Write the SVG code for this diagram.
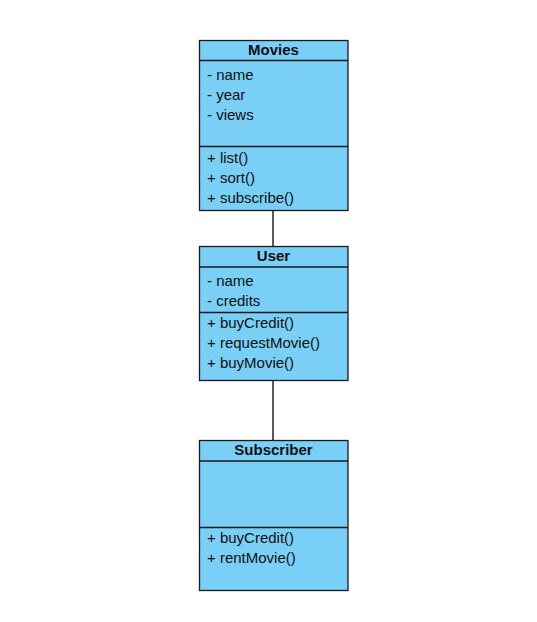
<svg xmlns="http://www.w3.org/2000/svg" width="537" height="622" viewBox="0 0 537 622">
<style>
.box{fill:#79CFF5;stroke:#1a1a1a;stroke-width:1.3}
.div{stroke:#1a1a1a;stroke-width:1.3;fill:none}
.t{font-family:"Liberation Sans",Arial,sans-serif;font-size:15px;fill:#111}
.h{font-family:"Liberation Sans",Arial,sans-serif;font-size:15px;font-weight:bold;fill:#111;text-anchor:middle}
.c{stroke:#000;stroke-width:1.3;fill:none}
</style>
<rect width="537" height="622" fill="#fff"/>
<g id="connectors">
<line class="c" x1="273" y1="210.5" x2="273" y2="246"/>
<line class="c" x1="273" y1="380.5" x2="273" y2="440"/>
</g>
<g id="movies">
<rect class="box" x="199.5" y="40.5" width="148.5" height="170"/>
<line class="div" x1="199.5" y1="60.5" x2="348" y2="60.5"/>
<line class="div" x1="199.5" y1="146.5" x2="348" y2="146.5"/>
<text class="h" x="273.5" y="55">Movies</text>
<text class="t" x="207" y="80">- name</text>
<text class="t" x="207" y="100">- year</text>
<text class="t" x="207" y="120">- views</text>
<text class="t" x="207" y="163">+ list()</text>
<text class="t" x="207" y="183">+ sort()</text>
<text class="t" x="207" y="203">+ subscribe()</text>
</g>
<g id="user">
<rect class="box" x="199.5" y="246.5" width="148.5" height="134"/>
<line class="div" x1="199.5" y1="267" x2="348" y2="267"/>
<line class="div" x1="199.5" y1="312.5" x2="348" y2="312.5"/>
<text class="h" x="273.5" y="261">User</text>
<text class="t" x="207" y="286">- name</text>
<text class="t" x="207" y="306">- credits</text>
<text class="t" x="207" y="328">+ buyCredit()</text>
<text class="t" x="207" y="348">+ requestMovie()</text>
<text class="t" x="207" y="368">+ buyMovie()</text>
</g>
<g id="subscriber">
<rect class="box" x="199.5" y="440.5" width="148.5" height="150"/>
<line class="div" x1="199.5" y1="461" x2="348" y2="461"/>
<line class="div" x1="199.5" y1="527.5" x2="348" y2="527.5"/>
<text class="h" x="273.5" y="455">Subscriber</text>
<text class="t" x="207" y="543">+ buyCredit()</text>
<text class="t" x="207" y="563">+ rentMovie()</text>
</g>
</svg>
